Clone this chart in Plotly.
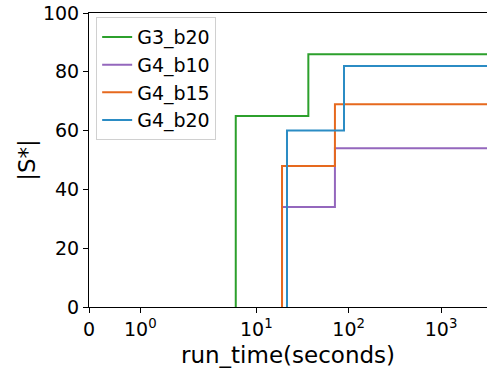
import numpy as np
import plotly.graph_objects as go

# ---- data ----
series_names = ["G3_b20", "G4_b10", "G4_b15", "G4_b20"]
run_times = [
    [6.0, 6.0, 36.6, 5000.0],
    [19.0, 19.0, 71.0, 5000.0],
    [19.0, 19.0, 71.0, 5000.0],
    [21.5, 21.5, 89.0, 5000.0],
]
s_sizes = [
    [0, 65, 86, 86],
    [0, 34, 54, 54],
    [0, 48, 69, 69],
    [0, 60, 82, 82],
]
colors = ["#2ca02c", "#9467bd", "#e6691e", "#2b8cc4"]
x_tick_values = [0, 1, 10, 100, 1000]
x_tick_labels = ["0", "10<sup>0</sup>", "10<sup>1</sup>", "10<sup>2</sup>", "10<sup>3</sup>"]
y_tick_values = [0, 20, 40, 60, 80, 100]

# symlog transform (linthresh=2, linscale=1, base 10), like matplotlib
LINTHRESH = 2.0
LINSCALE_ADJ = 1.0 / (1.0 - 1.0 / 10.0)


def symlog(v):
    v = np.asarray(v, dtype=float)
    out = np.where(
        np.abs(v) <= LINTHRESH,
        v / LINTHRESH * LINSCALE_ADJ,
        np.sign(v) * (LINSCALE_ADJ + np.log10(np.maximum(np.abs(v), 1e-12) / LINTHRESH)),
    )
    return out


fig = go.Figure()
for name, xs, ys, c in zip(series_names, run_times, s_sizes, colors):
    fig.add_trace(go.Scatter(
        x=symlog(xs), y=ys, mode="lines", name=name,
        line=dict(color=c, width=2, shape="hv"),
    ))

font_family = "DejaVu Sans"
fig.update_layout(
    width=487, height=369,
    margin=dict(l=89, r=0, t=13, b=62),
    paper_bgcolor="white", plot_bgcolor="white",
    font=dict(family=font_family, size=19, color="black"),
    showlegend=True,
    legend=dict(
        x=0.018, y=0.986, xanchor="left", yanchor="top",
        bgcolor="rgba(255,255,255,0.8)", bordercolor="#d0d0d0", borderwidth=1,
        font=dict(family=font_family, size=19, color="black"),
        tracegroupgap=0, itemwidth=30,
    ),
    xaxis=dict(
        range=[0, 4.307],
        tickmode="array",
        tickvals=list(symlog(x_tick_values)),
        ticktext=x_tick_labels,
        ticks="outside", ticklen=5, tickcolor="black",
        showline=True, linecolor="black", linewidth=1, mirror=True,
        showgrid=False, zeroline=False,
        title=dict(text="run_time(seconds)", font=dict(size=23), standoff=8),
        tickfont=dict(size=19),
    ),
    yaxis=dict(
        range=[0, 100],
        tickmode="array", tickvals=y_tick_values,
        ticks="outside", ticklen=5, tickcolor="black",
        showline=True, linecolor="black", linewidth=1, mirror=False,
        showgrid=False, zeroline=False,
        title=dict(text="|S*|", font=dict(size=23), standoff=0),
        tickfont=dict(size=19),
    ),
)

fig.write_html("out.html", config={"displayModeBar": False},
               post_script="document.body.style.margin='0';")
